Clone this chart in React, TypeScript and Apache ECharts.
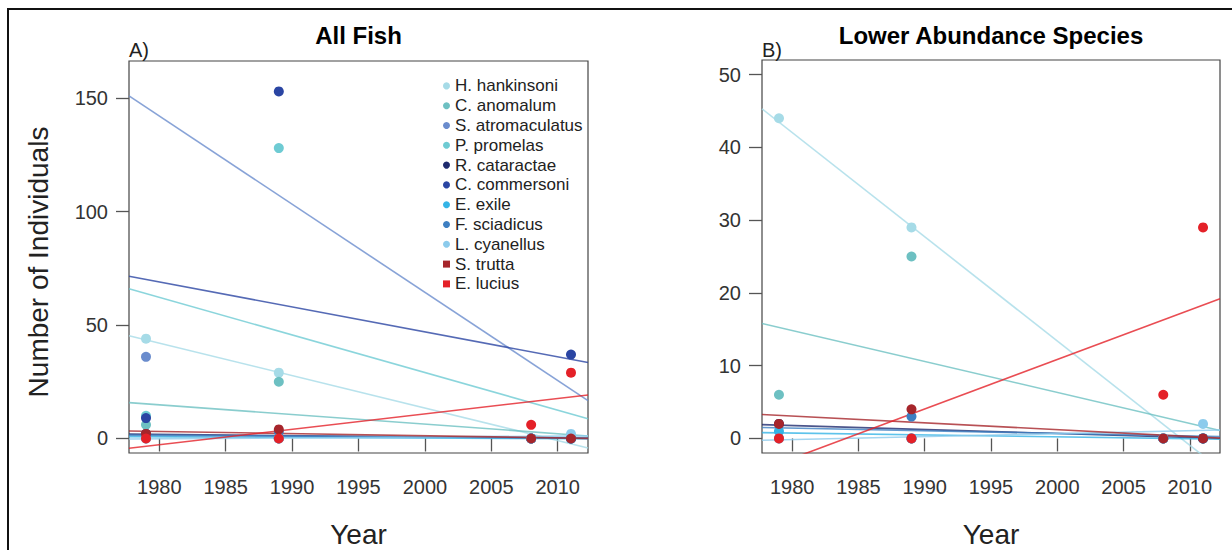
import React, { useEffect, useRef } from "react";
import * as echarts from "echarts";

// ---- data ----
const YEARS = [1979, 1989, 2008, 2011];
const SPECIES = [
  "H. hankinsoni",
  "C. anomalum",
  "S. atromaculatus",
  "P. promelas",
  "R. cataractae",
  "C. commersoni",
  "E. exile",
  "F. sciadicus",
  "L. cyanellus",
  "S. trutta",
  "E. lucius",
];
const COLORS = [
  "#a6dbe7",
  "#6dc0c2",
  "#6a8ccd",
  "#6ecbd3",
  "#1e2a6e",
  "#2a45a3",
  "#34b4e6",
  "#3d7fc2",
  "#8ccbec",
  "#a6252b",
  "#e42128",
];
// counts per species for YEARS (null = not visible, off scale)
const hHankinsoni = [44, 29, 0, 0];
const cAnomalum = [6, 25, 0, 0];
const sAtromaculatus = [36, null, 0, 0];
const pPromelas = [10, 128, 0, 0];
const rCataractae = [2, 0, 0, 0];
const cCommersoni = [9, 153, 0, 37];
const eExile = [1, 0, 0, 0];
const fSciadicus = [0, 3, 0, 0];
const lCyanellus = [0, 0, 0, 2];
const sTrutta = [2, 4, 0, 0];
const eLucius = [0, 0, 6, 29];
const COUNTS = [
  hHankinsoni, cAnomalum, sAtromaculatus, pPromelas, rCataractae,
  cCommersoni, eExile, fSciadicus, lCyanellus, sTrutta, eLucius,
];
// fitted trend lines: value at the left and right edges of the x range
const X_RANGE = [1977.72, 2012.28];
const FIT_START = [45.3, 15.8, 151, 66, 1.9, 71.5, 0.8, 1.5, -0.25, 3.3, -4.3];
const FIT_END = [-4.2, 1.1, 16.7, 8.7, 0.0, 33.5, -0.1, 0.25, 1.15, 0.05, 19.2];
// species shown in panel B
const LOWER_SPECIES = [0, 1, 4, 6, 7, 8, 9, 10];
const X_TICKS = [1980, 1985, 1990, 1995, 2000, 2005, 2010];
const Y_TICKS_A = [0, 50, 100, 150];
const Y_TICKS_B = [0, 10, 20, 30, 40, 50];
const Y_RANGE_A = [-6.4, 166.4];
const Y_RANGE_B = [-2, 52];

const FONT = "'Liberation Sans', Arial, Helvetica, sans-serif";

export default function App() {
  const ref = useRef<HTMLDivElement>(null);
  useEffect(() => {
    document.body.style.margin = "0";
    const chart = echarts.init(ref.current!, null, { renderer: "svg" });

    const xAxis = (gi: number) => ({
      type: "value",
      gridIndex: gi,
      min: X_RANGE[0],
      max: X_RANGE[1],
      axisLine: { show: false },
      splitLine: { show: false },
      axisTick: {
        show: true,
        length: 13,
        customValues: X_TICKS,
        lineStyle: { color: "#555", width: 1.3 },
      },
      axisLabel: {
        customValues: X_TICKS,
        margin: 24,
        fontSize: 20,
        color: "#333",
        fontFamily: FONT,
        formatter: (v: number) => String(v),
      },
    });
    const yAxis = (gi: number, range: number[], ticks: number[]) => ({
      type: "value",
      gridIndex: gi,
      min: range[0],
      max: range[1],
      axisLine: { show: false },
      splitLine: { show: false },
      axisTick: {
        show: true,
        length: 13,
        customValues: ticks,
        lineStyle: { color: "#555", width: 1.3 },
      },
      axisLabel: {
        customValues: ticks,
        margin: 21,
        fontSize: 20,
        color: "#333",
        fontFamily: FONT,
        formatter: (v: number) => String(v),
      },
    });

    const series: any[] = [];
    const panels = [SPECIES.map((_, i) => i), LOWER_SPECIES];
    panels.forEach((members, p) => {
      members.forEach((i) => {
        series.push({
          type: "line",
          name: SPECIES[i] + " fit",
          xAxisIndex: p,
          yAxisIndex: p,
          data: [
            [X_RANGE[0], FIT_START[i]],
            [X_RANGE[1], FIT_END[i]],
          ],
          symbol: "none",
          clip: true,
          z: 2,
          lineStyle: { color: COLORS[i], width: 1.6, opacity: 0.8 },
          silent: true,
        });
      });
    });
    panels.forEach((members, p) => {
      members.forEach((i) => {
        series.push({
          type: "scatter",
          name: SPECIES[i],
          xAxisIndex: p,
          yAxisIndex: p,
          data: YEARS.map((y, k) => [y, COUNTS[i][k]]).filter((d) => d[1] !== null),
          symbol: "circle",
          symbolSize: 10,
          clip: true,
          z: 3,
          itemStyle: { color: COLORS[i], opacity: 1 },
        });
      });
    });

    chart.setOption({
      animation: false,
      grid: [
        { left: 129, top: 61, width: 459, height: 392, show: true, borderColor: "#444", borderWidth: 1.2, backgroundColor: "transparent" },
        { left: 762, top: 60, width: 458, height: 393, show: true, borderColor: "#444", borderWidth: 1.2, backgroundColor: "transparent" },
      ],
      xAxis: [xAxis(0), xAxis(1)],
      yAxis: [yAxis(0, Y_RANGE_A, Y_TICKS_A), yAxis(1, Y_RANGE_B, Y_TICKS_B)],
      legend: {
        orient: "vertical",
        left: 438,
        top: 71,
        itemGap: 0,
        itemWidth: 7,
        itemHeight: 7,
        selectedMode: false,
        textStyle: { fontSize: 17, lineHeight: 19.8, color: "#222", fontFamily: FONT },
        data: SPECIES.map((name, i) => ({
          name,
          icon: i >= 9 ? "rect" : "circle",
          itemStyle: { color: COLORS[i] },
        })),
      },
      graphic: [
        { type: "rect", shape: { x: 8, y: 9, width: 1300, height: 600 }, style: { fill: "none", stroke: "#111", lineWidth: 2 } },
        { type: "text", x: 358.5, y: 35, style: { text: "All Fish", font: `bold 24px ${FONT}`, fill: "#000", align: "center", verticalAlign: "middle" } },
        { type: "text", x: 991, y: 35, style: { text: "Lower Abundance Species", font: `bold 24px ${FONT}`, fill: "#000", align: "center", verticalAlign: "middle" } },
        { type: "text", x: 129, y: 50, style: { text: "A)", font: `20px ${FONT}`, fill: "#222", align: "left", verticalAlign: "middle" } },
        { type: "text", x: 762, y: 50, style: { text: "B)", font: `20px ${FONT}`, fill: "#222", align: "left", verticalAlign: "middle" } },
        { type: "text", x: 358.5, y: 534, style: { text: "Year", font: `28px ${FONT}`, fill: "#222", align: "center", verticalAlign: "middle" } },
        { type: "text", x: 991, y: 534, style: { text: "Year", font: `28px ${FONT}`, fill: "#222", align: "center", verticalAlign: "middle" } },
        { type: "text", x: 38, y: 262, rotation: Math.PI / 2, style: { text: "Number of Individuals", font: `28px ${FONT}`, fill: "#222", align: "center", verticalAlign: "middle" } },
      ],
      series,
    } as any);
    return () => chart.dispose();
  }, []);
  return <div ref={ref} style={{ width: 1232, height: 550 }} />;
}
